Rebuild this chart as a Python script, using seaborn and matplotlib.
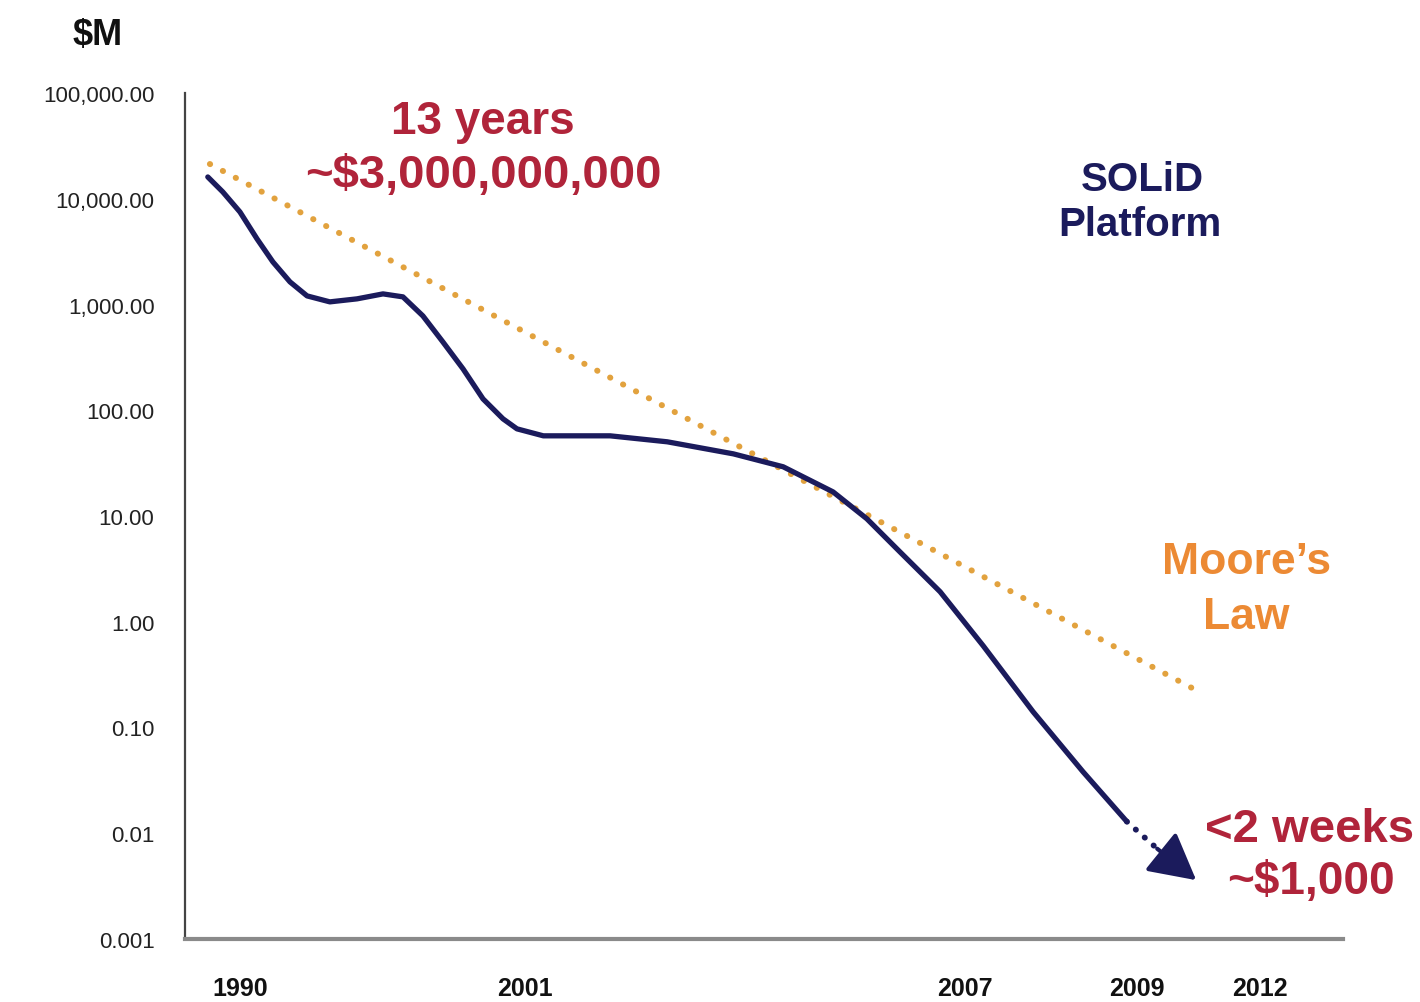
import numpy as np
import matplotlib
matplotlib.use("Agg")
import matplotlib.pyplot as plt
import seaborn as sns

# data (years, $M on a log scale)
solid_years = [1988.76, 1989.34, 1990.00, 1990.66, 1991.27, 1991.93, 1992.59, 1993.47,
               1994.52, 1995.52, 1996.29, 1997.06, 1997.83, 1998.61, 1999.38, 2000.15,
               2000.69, 2001.25, 2002.16, 2002.94, 2003.84, 2004.52, 2005.20, 2005.66,
               2006.11, 2006.66, 2007.21, 2007.79, 2008.37, 2008.88]
solid_values = [16070, 11590, 7500, 4170, 2530, 1637, 1206, 1059,
                1131, 1260, 1181, 780, 443, 246, 128, 83,
                66.7, 57.3, 57.3, 50.3, 38.7, 29.2, 16.9, 9.42,
                4.59, 1.92, 0.593, 0.141, 0.0382, 0.0129]
arrow_years = [2008.88, 2009.49, 2010.44]
arrow_values = [0.0129, 0.00714, 0.0036]
moore_years = [1988.84, 2010.46]
moore_values = [21300, 0.223]

tick_years = [1990, 2001, 2007, 2009, 2012]
ytick_values = [100000, 10000, 1000, 100, 10, 1, 0.1, 0.01, 0.001]
ytick_labels = ["100,000.00", "10,000.00", "1,000.00", "100.00", "10.00",
                "1.00", "0.10", "0.01", "0.001"]

NAVY = "#1b1b5c"
RED = "#b0243a"
GOLD = "#e2a23e"
ORANGE = "#ec8a34"

sns.set_style("white")
plt.rcParams["font.family"] = ["Liberation Sans", "DejaVu Sans"]

W, H = 1420, 1003
fig = plt.figure(figsize=(W / 100, H / 100), dpi=100)
ax = fig.add_axes([185 / W, 1 - 940 / H, (1343 - 185) / W, (940 - 94) / H])

# the year axis in the original is not evenly spaced
scale_years = [1980, 1990, 2001, 2007, 2009, 2012, 2020]
scale_pos = [-19.1, 240, 525, 965, 1137, 1260, 1588]


def fwd(x):
    return np.interp(x, scale_years, scale_pos)


def inv(p):
    return np.interp(p, scale_pos, scale_years)


ax.set_xscale("function", functions=(fwd, inv))
ax.set_yscale("log")

sns.lineplot(x=moore_years, y=moore_values, ax=ax, color=GOLD, linewidth=4.3,
             linestyle=(0, (0.05, 2.4)), dash_capstyle="round", sort=False, estimator=None)
sns.lineplot(x=solid_years, y=solid_values, ax=ax, color=NAVY, linewidth=3.8,
             sort=False, estimator=None, solid_capstyle="round", solid_joinstyle="round")
sns.lineplot(x=arrow_years[:2], y=arrow_values[:2], ax=ax, color=NAVY, linewidth=4.2,
             linestyle=(0, (0.05, 2.0)), dash_capstyle="round", sort=False, estimator=None)
ax.annotate("", xy=(arrow_years[2], arrow_values[2]), xytext=(arrow_years[1], arrow_values[1]),
            arrowprops=dict(arrowstyle="-|>,head_length=1.3,head_width=0.7", color=NAVY,
                            lw=3, shrinkA=0, shrinkB=0, mutation_scale=22))

ax.set_xlim(1987.88, 2014.02)
ax.set_ylim(0.001, 100000)

ax.set_xticks(tick_years)
ax.set_xticklabels([str(y) for y in tick_years], fontsize=18, fontweight="bold",
                   color="#111111")
ax.tick_params(axis="x", length=0, pad=27)
ax.set_yticks(ytick_values)
ax.set_yticklabels(ytick_labels, fontsize=16, color="#222222")
ax.yaxis.set_minor_locator(matplotlib.ticker.NullLocator())
ax.tick_params(axis="y", length=4, width=1.2, color="#555555", pad=18, direction="out")

for side in ["top", "right"]:
    ax.spines[side].set_visible(False)
ax.spines["left"].set_color("#444444")
ax.spines["left"].set_linewidth(1.6)
ax.spines["bottom"].set_color("#8a8a8a")
ax.spines["bottom"].set_linewidth(3)


def put(px, py, s, **kw):
    fig.text(px / W, 1 - py / H, s, ha="center", va="center", **kw)


put(98, 35, "$M", fontsize=26, fontweight="bold", color="#111111")
put(483, 122, "13 years", fontsize=33, fontweight="bold", color=RED)
put(483, 176, "~$3,000,000,000", fontsize=34, fontweight="bold", color=RED)
put(1142, 180, "SOLiD", fontsize=29, fontweight="bold", color=NAVY)
put(1140, 225, "Platform", fontsize=29, fontweight="bold", color=NAVY)
put(1247, 563, "Moore\u2019s", fontsize=32, fontweight="bold", color=ORANGE)
put(1246, 618, "Law", fontsize=32, fontweight="bold", color=ORANGE)
put(1310, 830, "<2 weeks", fontsize=34, fontweight="bold", color=RED)
put(1311, 882, "~$1,000", fontsize=33, fontweight="bold", color=RED)

fig.savefig("out.png", dpi=100)
